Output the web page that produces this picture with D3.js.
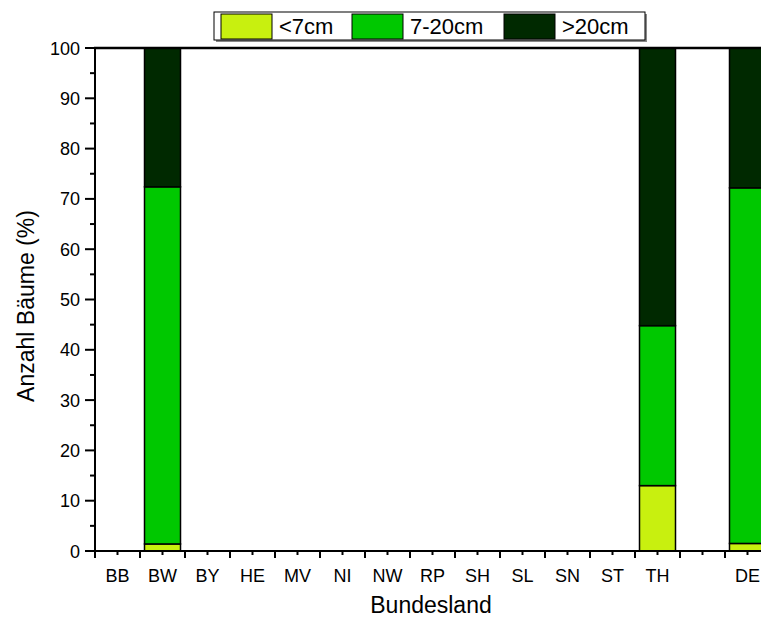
<!DOCTYPE html>
<html>
<head>
<meta charset="utf-8">
<script src="https://cdn.jsdelivr.net/npm/d3@7"></script>
<style>
    body { margin: 0; background: #fff; }
    text { font-family: "Liberation Sans", Arial, sans-serif; fill: #000; }
</style>
</head>
<body>
<div id="chart"></div>
<script>

// DATA
// ----------------------------------------------------------------
var categories = ['BB', 'BW', 'BY', 'HE', 'MV', 'NI', 'NW', 'RP', 'SH', 'SL', 'SN', 'ST', 'TH', '', 'DE'];
var seriesNames = ['<7cm', '7-20cm', '>20cm'];
var small  = [0, 1.4, 0, 0, 0, 0, 0, 0, 0, 0, 0, 0, 13.0, 0, 1.5];
var medium = [0, 71.0, 0, 0, 0, 0, 0, 0, 0, 0, 0, 0, 31.8, 0, 70.7];
var large  = [0, 27.6, 0, 0, 0, 0, 0, 0, 0, 0, 0, 0, 55.2, 0, 27.8];
var yTicks = [0, 10, 20, 30, 40, 50, 60, 70, 80, 90, 100];
var colors = ['#c8f00f', '#00c800', '#002900'];

var _width = 761,
    _height = 619,
    _left = 95,
    _top = 48,
    _bottom = 551,
    _right = 770;

var svg = d3.select('#chart').append('svg')
    .attr('width', _width)
    .attr('height', _height);

var x = d3.scaleBand()
    .domain(categories)
    .range([_left, _right])
    .paddingInner(0.2)
    .paddingOuter(0.1);

var y = d3.scaleLinear()
    .domain([0, 100])
    .range([_bottom, _top]);

// BARS
// ----------------------------------------------------------------
var rows = categories.map(function (c, i) {
    return { cat: c, '<7cm': small[i], '7-20cm': medium[i], '>20cm': large[i] };
});
var stacked = d3.stack().keys(seriesNames)(rows);

svg.append('g').selectAll('g')
    .data(stacked)
    .join('g')
    .attr('fill', function (d, i) { return colors[i]; })
    .selectAll('rect')
    .data(function (d) { return d.filter(function (p) { return p[1] - p[0] > 0; }); })
    .join('rect')
    .attr('x', function (d) { return x(d.data.cat); })
    .attr('y', function (d) { return y(d[1]); })
    .attr('width', x.bandwidth())
    .attr('height', function (d) { return y(d[0]) - y(d[1]); })
    .attr('stroke', '#000')
    .attr('stroke-width', 1.5);

// AXES
// ----------------------------------------------------------------
var gy = svg.append('g').attr('transform', 'translate(' + _left + ',0)');
gy.selectAll('line.major')
    .data(yTicks)
    .join('line')
    .attr('x1', -10).attr('x2', 0)
    .attr('y1', function (d) { return y(d); })
    .attr('y2', function (d) { return y(d); })
    .attr('stroke', '#000').attr('stroke-width', 2);
gy.selectAll('line.minor')
    .data(yTicks.slice(0, -1).map(function (d) { return d + 5; }))
    .join(function (enter) { return enter.append('line').attr('class', 'minor'); })
    .attr('x1', -5).attr('x2', 0)
    .attr('y1', function (d) { return y(d); })
    .attr('y2', function (d) { return y(d); })
    .attr('stroke', '#000').attr('stroke-width', 2);
gy.selectAll('text')
    .data(yTicks)
    .join('text')
    .attr('x', -15)
    .attr('y', function (d) { return y(d) + 6.5; })
    .attr('text-anchor', 'end')
    .style('font-size', '18px')
    .text(function (d) { return d; });

var gx = svg.append('g').attr('transform', 'translate(0,' + _bottom + ')');
var step = x.step();
gx.selectAll('line.major')
    .data(categories.concat(['end']))
    .join(function (enter) { return enter.append('line').attr('class', 'major'); })
    .attr('x1', function (d, i) { return _left + i * step; })
    .attr('x2', function (d, i) { return _left + i * step; })
    .attr('y1', 0).attr('y2', 7)
    .attr('stroke', '#000').attr('stroke-width', 2);
gx.selectAll('line.minor')
    .data(categories)
    .join(function (enter) { return enter.append('line').attr('class', 'minor'); })
    .attr('x1', function (d) { return x(d) + x.bandwidth() / 2; })
    .attr('x2', function (d) { return x(d) + x.bandwidth() / 2; })
    .attr('y1', 0).attr('y2', 4)
    .attr('stroke', '#000').attr('stroke-width', 2);
gx.selectAll('text')
    .data(categories)
    .join('text')
    .attr('x', function (d) { return x(d) + x.bandwidth() / 2; })
    .attr('y', 31)
    .attr('text-anchor', 'middle')
    .style('font-size', '18px')
    .text(function (d) { return d; });

// frame lines: left, bottom, top
svg.append('line')
    .attr('x1', _left).attr('x2', _left)
    .attr('y1', _top - 1).attr('y2', _bottom + 1)
    .attr('stroke', '#000').attr('stroke-width', 2);
svg.append('line')
    .attr('x1', _left - 1).attr('x2', _width)
    .attr('y1', _bottom).attr('y2', _bottom)
    .attr('stroke', '#000').attr('stroke-width', 2);
svg.append('line')
    .attr('x1', _left - 1).attr('x2', _width)
    .attr('y1', _top).attr('y2', _top)
    .attr('stroke', '#000').attr('stroke-width', 2.5);

// AXIS TITLES
// ----------------------------------------------------------------
svg.append('text')
    .attr('x', 431)
    .attr('y', 613)
    .attr('text-anchor', 'middle')
    .style('font-size', '23px')
    .text('Bundesland');

svg.append('text')
    .attr('transform', 'translate(34,306) rotate(-90)')
    .attr('text-anchor', 'middle')
    .style('font-size', '23px')
    .text('Anzahl Bäume (%)');

// LEGEND
// ----------------------------------------------------------------
var gLegend = svg.append('g').attr('transform', 'translate(214,12)');
gLegend.append('rect')
    .attr('x', 2).attr('y', 2)
    .attr('width', 431).attr('height', 28)
    .attr('fill', '#888');
gLegend.append('rect')
    .attr('x', 0).attr('y', 0)
    .attr('width', 431).attr('height', 28)
    .attr('fill', '#fff')
    .attr('stroke', '#000')
    .attr('stroke-width', 1);

var legendX = [7, 138, 290];
var items = gLegend.selectAll('g.item')
    .data(seriesNames)
    .join('g')
    .attr('class', 'item')
    .attr('transform', function (d, i) { return 'translate(' + legendX[i] + ',2)'; });
items.append('rect')
    .attr('width', 51).attr('height', 25)
    .attr('fill', function (d, i) { return colors[i]; })
    .attr('stroke', '#000')
    .attr('stroke-width', 1);
items.append('text')
    .attr('x', 58)
    .attr('y', 20)
    .style('font-size', '22px')
    .text(function (d) { return d; });

</script>
</body>
</html>
